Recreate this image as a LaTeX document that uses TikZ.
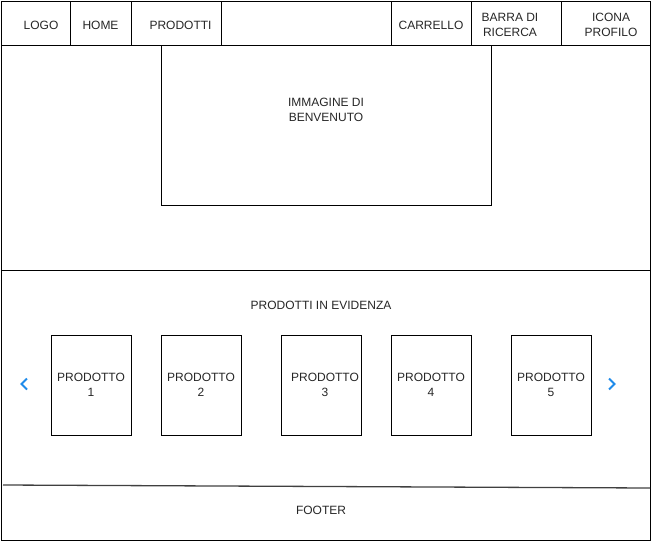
\documentclass[tikz,border=0pt]{standalone}
\usepackage{fontspec}
\setmainfont{Liberation Sans}
\usepackage{xcolor}
\usepackage{tikz}
\usetikzlibrary{positioning,arrows.meta}
\definecolor{navblue}{HTML}{1F8BEA}

\begin{document}
\begin{tikzpicture}[
    x=1pt, y=-1pt,
    node distance=0pt,
    font=\fontsize{12}{14.5}\selectfont,
    cell/.style={rectangle, draw, line width=0.9pt, minimum height=44pt, inner sep=0pt, outer sep=0pt},
    panel/.style={rectangle, draw, line width=0.9pt, inner sep=0pt, outer sep=0pt, anchor=north west},
    prodbox/.style={rectangle, draw, line width=0.9pt, minimum width=80pt, minimum height=100pt, inner sep=0pt, outer sep=0pt, align=center, text=black!85},
    txt/.style={align=center, text=black!85, inner sep=0pt},
    chevron/.style={navblue, line width=1.8pt}
]
\useasboundingbox (0,0) rectangle (653,541);

% header
\node[cell, anchor=north west, minimum width=69pt] (logo) at (1,1) {};
\node[cell, minimum width=61pt, right=of logo] (home) {};
\node[cell, minimum width=90pt, right=of home] (prod) {};
\node[cell, minimum width=170pt, right=of prod] (blank) {};
\node[cell, minimum width=80pt, right=of blank] (cart) {};
\node[cell, minimum width=90pt, right=of cart] (search) {};
\node[cell, minimum width=89pt, right=of search] (profile) {};

\node[txt] at ([shift={(5.5pt,-2pt)}]logo.center) {LOGO};
\node[txt] at ([yshift=-2pt]home.center) {HOME};
\node[txt] at ([shift={(4.5pt,-2pt)}]prod.center) {PRODOTTI};
\node[txt] at ([yshift=-2pt]cart.center) {CARRELLO};
\node[txt] at ([shift={(-6pt,-2pt)}]search.center) {BARRA DI\\RICERCA};
\node[txt] at ([shift={(5.5pt,-2pt)}]profile.center) {ICONA\\PROFILO};

% hero
\node[panel, minimum width=649pt, minimum height=225pt] (hero) at (1,45) {};
\node[panel, minimum width=330pt, minimum height=160pt] (welcome) at (161,45) {};
\node[txt] at ([yshift=15pt]welcome.center) {IMMAGINE DI\\BENVENUTO};

% products + footer
\node[panel, minimum width=649pt, minimum height=270pt] (showcase) at (1,270) {};
\node[txt] (title) at (321,305.5) {PRODOTTI IN EVIDENZA};

\node[prodbox, anchor=north west] (p1) at (51,335) {PRODOTTO\\1};
\node[prodbox, right=30pt of p1] (p2) {PRODOTTO\\2};
\node[prodbox, right=40pt of p2, label={[txt, xshift=4pt]center:PRODOTTO\\3}] (p3) {};
\node[prodbox, right=30pt of p3] (p4) {PRODOTTO\\4};
\node[prodbox, right=40pt of p4] (p5) {PRODOTTO\\5};

\coordinate (prev) at (24,384);
\coordinate (next) at (612,384);
\draw[chevron] ([shift={(3,-5.5)}]prev) -- ([shift={(-2.5,0)}]prev) -- ([shift={(3,5.5)}]prev);
\draw[chevron] ([shift={(-3,-5.5)}]next) -- ([shift={(2.5,0)}]next) -- ([shift={(-3,5.5)}]next);

\coordinate (footl) at (3,485);
\coordinate (footr) at (650,488);
\draw[black!75, line width=1.3pt] (footl) -- (footr);
\node[txt] (footer) at (321,510) {FOOTER};
\end{tikzpicture}
\end{document}
